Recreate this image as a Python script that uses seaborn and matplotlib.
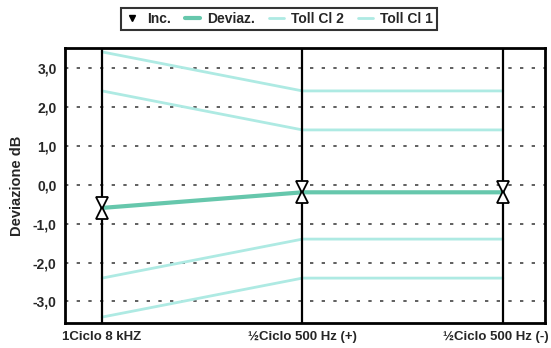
import numpy as np
import pandas as pd
import matplotlib
matplotlib.use('Agg')
import matplotlib.pyplot as plt
import seaborn as sns
from matplotlib.lines import Line2D

# data
categories = ['1Ciclo 8 kHZ', '½Ciclo 500 Hz (+)', '½Ciclo 500 Hz (-)']
deviaz = [-0.6, -0.2, -0.2]
inc = [0.13, 0.13, 0.13]
toll_cl2_up = [3.4, 2.4, 2.4]
toll_cl2_lo = [-3.4, -2.4, -2.4]
toll_cl1_up = [2.4, 1.4, 1.4]
toll_cl1_lo = [-2.4, -1.4, -1.4]
yticks = [-3, -2, -1, 0, 1, 2, 3]

sns.set_theme(style='white')
plt.rcParams['font.family'] = ['Liberation Sans', 'DejaVu Sans']
plt.rcParams['font.weight'] = 'bold'

c_dev = '#66c7ac'
c_tol = '#aeeae3'

fig = plt.figure(figsize=(5.51, 3.48), dpi=100)
ax = fig.add_axes([0.118, 0.072, 0.871, 0.790])

df = pd.DataFrame({'cat': categories, 'dev': deviaz,
                   'c2u': toll_cl2_up, 'c2l': toll_cl2_lo,
                   'c1u': toll_cl1_up, 'c1l': toll_cl1_lo})
df['inc_up'] = df['dev'] + np.array(inc)
df['inc_lo'] = df['dev'] - np.array(inc)

for col in ['c2u', 'c2l', 'c1u', 'c1l']:
    sns.lineplot(data=df, x='cat', y=col, ax=ax, color=c_tol, lw=2, sort=False)
sns.lineplot(data=df, x='cat', y='dev', ax=ax, color=c_dev, lw=3, sort=False)

# Inc. markers (hourglass)
ax.plot(df['cat'], df['inc_up'], ls='none', marker='v', ms=9, mfc='white', mec='black', mew=1.3, zorder=5)
ax.plot(df['cat'], df['inc_lo'], ls='none', marker='^', ms=9, mfc='white', mec='black', mew=1.3, zorder=5)

ax.set_xlim(-0.185, 2.21)
ax.set_ylim(-3.55, 3.5)
ax.set_yticks(yticks)
ax.set_yticklabels([f'{v:.1f}'.replace('.', ',') for v in yticks], fontsize=10, fontweight='bold')
ax.set_xticks(range(len(categories)))
# last label would run off the edge, so it is drawn separately, right-aligned to the border
ax.set_xticklabels(categories[:-1] + [''], fontsize=9.5, fontweight='bold')
ax.annotate(categories[-1], xy=(len(categories) - 1, 0), xycoords=('data', 'axes fraction'),
            xytext=(33, -6), textcoords='offset points', ha='right', va='top',
            fontsize=9.5, fontweight='bold')
ax.set_xlabel('')
ax.set_ylabel('Deviazione dB', fontsize=10.5, fontweight='bold', labelpad=6)

for y in yticks:
    ax.axhline(y, color='#444444', lw=1.2, ls=(0, (2, 5)), zorder=1)
for i in range(len(categories)):
    ax.axvline(i, color='black', lw=1.6, zorder=4)

for s in ax.spines.values():
    s.set_color('black')
    s.set_linewidth(2)
ax.tick_params(axis='x', direction='out', length=4, width=1.2, color='black', pad=2)
ax.tick_params(axis='y', length=0, pad=6)

handles = [Line2D([], [], ls='none', marker='v', ms=5, color='black'),
           Line2D([], [], color=c_dev, lw=3),
           Line2D([], [], color=c_tol, lw=2),
           Line2D([], [], color=c_tol, lw=2)]
leg = fig.legend(handles, ['Inc.', 'Deviaz.', 'Toll Cl 2', 'Toll Cl 1'],
                 loc='center', bbox_to_anchor=(0.506, 0.945), ncol=4,
                 fancybox=False, frameon=True, handlelength=1.1, handletextpad=0.5,
                 columnspacing=1.0, borderpad=0.3, prop={'weight': 'bold', 'size': 10})
leg.get_frame().set_edgecolor('black')
leg.get_frame().set_linewidth(1.5)

fig.savefig('out.png', dpi=100)
